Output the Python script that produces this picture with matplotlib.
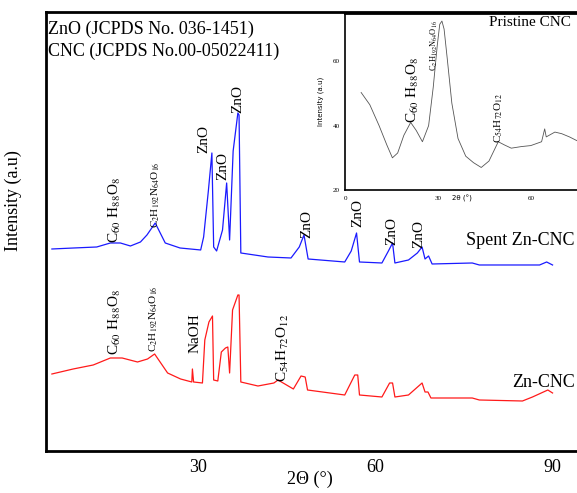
#!/usr/bin/env python3
"""XRD patterns of Zn-CNC and spent Zn-CNC with pristine CNC inset"""

import matplotlib
matplotlib.use('Agg')
import matplotlib.pyplot as plt

# Spent Zn-CNC (blue), 2theta vs intensity (arbitrary units)
spent_x = [5.3, 9.0, 12.9, 15.2, 16.9, 18.6, 20.3, 21.4, 22.8, 24.5, 27.0, 30.5,
           31.0, 31.8, 32.4, 32.7, 33.2, 34.2, 34.9, 35.4, 36.0, 36.8, 37.0, 37.3,
           41.9, 45.8, 47.2, 48.0, 48.7, 54.9, 56.0, 56.9, 57.4, 61.2, 62.3, 63.0,
           63.4, 65.7, 67.2, 68.0, 68.5, 69.1, 69.7, 76.5, 77.7, 87.9, 89.1, 90.1]
spent_y = [202, 203, 204, 208, 208, 205, 209, 216, 228, 208, 203, 201,
           214, 260, 298, 204, 200, 221, 268, 211, 300, 338, 336, 198,
           194, 193, 204, 216, 192, 189, 200, 218, 189, 188, 200, 208,
           188, 191, 198, 204, 192, 195, 187, 188, 186, 186, 189, 186]

# Zn-CNC (red)
zncnc_x = [5.3, 8.9, 12.3, 15.2, 17.2, 19.8, 21.5, 22.7, 24.9, 27.1, 29.0, 29.1,
           29.3, 30.8, 31.2, 31.9, 32.5, 32.7, 33.4, 34.0, 34.7, 35.1, 35.4, 35.9,
           36.8, 37.0, 37.3, 40.2, 42.9, 43.6, 46.2, 47.5, 48.2, 48.6, 54.9, 56.6,
           57.1, 57.4, 61.2, 62.5, 63.0, 63.4, 65.7, 68.0, 68.5, 69.0, 69.5, 76.5,
           77.7, 85.0, 86.7, 89.3, 90.1]
zncnc_y = [77, 82, 86, 93, 93, 89, 92, 97, 78, 72, 69, 82,
           69, 68, 111, 129, 135, 71, 70, 99, 103, 104, 78, 141,
           156, 156, 69, 65, 68, 71, 62, 75, 74, 61, 56, 76,
           76, 56, 54, 68, 68, 54, 56, 68, 59, 59, 53, 53,
           51, 50, 54, 61, 58]

# Pristine CNC (inset)
cnc_x = [5.2, 8.0, 11.0, 13.5, 15.3, 17.0, 19.0, 21.2, 23.0, 25.0, 27.0, 28.5,
         29.8, 30.6, 31.3, 32.0, 33.0, 34.5, 36.5, 39.0, 41.5, 44.0, 46.5, 48.0,
         49.5, 51.5, 53.7, 57.0, 60.0, 63.5, 64.5, 65.0, 67.8, 70.0, 72.5, 75.6]
cnc_y = [50.3, 46.5, 40.0, 34.0, 30.0, 31.5, 37.0, 41.0, 38.5, 35.0, 40.0, 52.0,
         65.0, 71.5, 72.5, 70.0, 61.0, 47.0, 36.0, 30.5, 28.5, 27.0, 29.0, 32.0,
         35.0, 34.0, 33.0, 33.5, 33.8, 35.0, 39.0, 36.5, 38.0, 37.5, 36.5, 35.0]

# peak labels: (text, x, y-bottom, fontsize)
spent_labels = [
    (r'C$_{60}$ H$_{88}$O$_8$', 16.0, 208, 11),
    (r'C$_2$H$_{192}$N$_{64}$O$_{16}$', 22.8, 223, 8),
    ('ZnO', 31.0, 298, 11),
    ('ZnO', 34.2, 271, 11),
    ('ZnO', 36.8, 338, 11),
    ('ZnO', 48.4, 213, 11),
    ('ZnO', 57.2, 224, 11),
    ('ZnO', 62.9, 206, 11),
    ('ZnO', 67.5, 203, 11),
]
zncnc_labels = [
    (r'C$_{60}$ H$_{88}$O$_8$', 16.0, 96, 11),
    (r'C$_2$H$_{192}$N$_{64}$O$_{16}$', 22.5, 99, 8),
    ('NaOH', 29.6, 98, 11),
    (r'C$_{54}$H$_{72}$O$_{12}$', 44.5, 69, 11),
]
cnc_labels = [
    (r'C$_{60}$ H$_{88}$O$_8$', 22.1, 40.9, 11),
    (r'C$_2$H$_{192}$N$_{64}$O$_{16}$', 28.7, 56.9, 6),
    (r'C$_{54}$H$_{72}$O$_{12}$', 49.5, 34.7, 8),
]


def main():
    plt.rcParams['font.family'] = ['Liberation Serif', 'DejaVu Serif']
    plt.rcParams['mathtext.fontset'] = 'stix'

    fig = plt.figure(figsize=(5.77, 4.93), dpi=100)
    ax = fig.add_axes([0.0797, 0.0852, 0.925, 0.8905])

    ax.plot(spent_x, spent_y, color='#1a1aff', lw=0.9)
    ax.plot(zncnc_x, zncnc_y, color='#ff1a1a', lw=0.9)

    ax.set_xlim(4.3, 94.7)
    ax.set_ylim(0, 439)
    ax.set_xticks([30, 60, 90])
    ax.set_yticks([])
    ax.tick_params(axis='x', length=0, pad=6, labelsize=13)
    for side in ['left', 'bottom', 'top']:
        ax.spines[side].set_linewidth(2)
    ax.spines['right'].set_visible(False)
    ax.set_xlabel('2\u0398 (\u00b0)', fontsize=13)
    ax.xaxis.set_label_coords(0.495, -0.045)
    ax.set_ylabel('Intensity (a.u)', fontsize=13)
    ax.yaxis.set_label_coords(-0.045, 0.57)

    for txt, x, y, fs in spent_labels + zncnc_labels:
        ax.text(x, y, txt, rotation=90, ha='center', va='bottom', fontsize=fs)

    ax.text(0.004, 0.961, 'ZnO (JCPDS No. 036-1451)', transform=ax.transAxes,
            fontsize=13, va='center', ha='left')
    ax.text(0.004, 0.911, 'CNC (JCPDS No.00-05022411)', transform=ax.transAxes,
            fontsize=13, va='center', ha='left')
    ax.text(93.9, 210, 'Spent Zn-CNC', fontsize=13, ha='right', va='center')
    ax.text(93.9, 68, 'Zn-CNC', fontsize=13, ha='right', va='center')

    # inset: pristine CNC
    ins = fig.add_axes([0.598, 0.6146, 0.405, 0.359])
    ins.plot(cnc_x, cnc_y, color='#555555', lw=0.6)
    ins.set_xlim(0, 75.5)
    ins.set_ylim(20, 75)
    ins.set_xticks([0, 30, 60])
    ins.set_yticks([20, 40, 60])
    ins.tick_params(length=0, labelsize=5, pad=4)
    for side in ['left', 'bottom']:
        ins.spines[side].set_linewidth(1.2)
    ins.spines['top'].set_linewidth(2)
    ins.spines['right'].set_visible(False)
    ins.set_xlabel('2\u03b8 (\u00b0)', fontsize=5, family='DejaVu Sans', labelpad=-4)
    ins.set_ylabel('Intensity (a.u)', fontsize=5, family='DejaVu Sans', labelpad=6)
    for txt, x, y, fs in cnc_labels:
        ins.text(x, y, txt, rotation=90, ha='center', va='bottom', fontsize=fs)
    ins.text(46.5, 72.2, 'Pristine CNC', fontsize=11, ha='left', va='center')

    fig.savefig('out.png', dpi=100)
    plt.close(fig)


if __name__ == "__main__":
    main()
